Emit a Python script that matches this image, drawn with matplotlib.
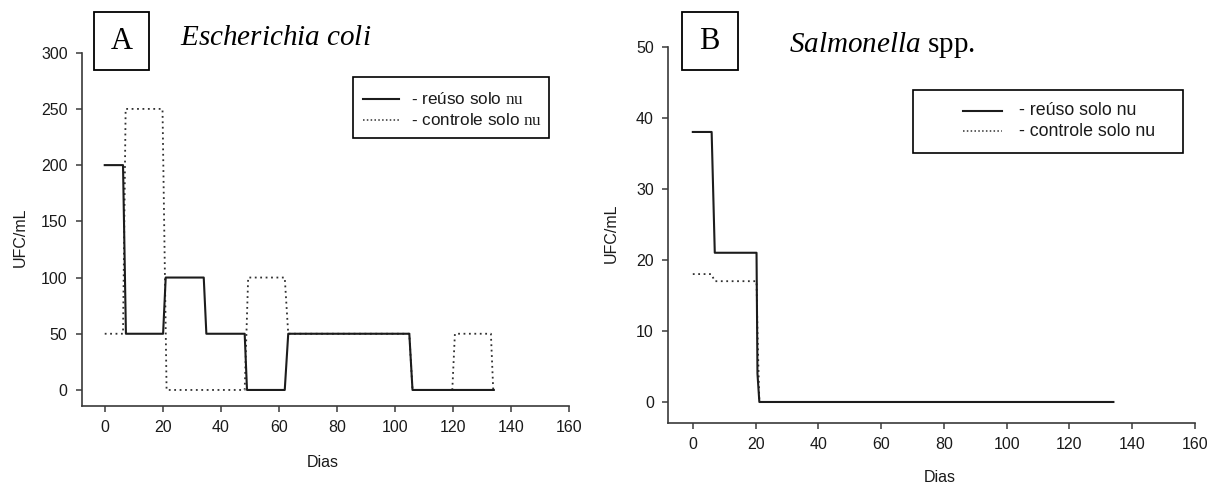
import matplotlib
matplotlib.use("Agg")
import matplotlib.pyplot as plt
from matplotlib.patches import Rectangle
from matplotlib.lines import Line2D

plt.rcParams['font.family'] = ['Liberation Sans', 'DejaVu Sans']
plt.rcParams['mathtext.fontset'] = 'custom'
plt.rcParams['mathtext.rm'] = 'Liberation Serif'
plt.rcParams['mathtext.it'] = 'Liberation Serif:italic'
plt.rcParams['mathtext.bf'] = 'Liberation Serif:bold'

# ---- data: panel A (Escherichia coli) ----
a_reuse_days = [0, 6.3, 7.3, 20.1, 21.0, 34.1, 35.0, 48.2, 49.0, 62.0, 63.2, 104.9, 106.0, 134]
a_reuse_ufc = [200, 200, 50, 50, 100, 100, 50, 50, 0, 0, 50, 50, 0, 0]
a_ctrl_days = [0, 6.3, 7.2, 19.9, 21.3, 48.2, 49.4, 62.0, 63.2, 104.9, 106.0, 119.7, 120.6, 133.0, 133.8]
a_ctrl_ufc = [50, 50, 250, 250, 0, 0, 100, 100, 50, 50, 0, 0, 50, 50, 0]

# ---- data: panel B (Salmonella spp.) ----
b_reuse_days = [0, 6.0, 7.0, 20.3, 20.6, 21.2, 134]
b_reuse_ufc = [38, 38, 21, 21, 4, 0, 0]
b_ctrl_days = [0, 5.9, 7.0, 20.3, 20.6, 21.2]
b_ctrl_ufc = [18, 18, 17, 17, 10, 0]

x_ticks = [0, 20, 40, 60, 80, 100, 120, 140, 160]
a_yticks = [0, 50, 100, 150, 200, 250, 300]
b_yticks = [0, 10, 20, 30, 40, 50]
legend_labels_a = ["- reúso solo $\\mathrm{nu}$", "- controle solo $\\mathrm{nu}$"]
legend_labels_b = ["- reúso solo nu", "- controle solo nu"]

W, H = 1220, 488
fig = plt.figure(figsize=(W / 100, H / 100), dpi=100)


def fx(px):
    return px / W


def fy(py):
    return 1 - py / H


def make_axes(l, r, t, b):
    return fig.add_axes([fx(l), fy(b), fx(r) - fx(l), fy(t) - fy(b)])


SPINE = '#3a3a3a'
TXT = '#1a1a1a'
SOLID_C = '#1c1c1c'
DOT_C = '#303030'


def style(ax, yticks, xlim, ylim):
    ax.set_xlim(*xlim)
    ax.set_ylim(*ylim)
    ax.set_xticks(x_ticks)
    ax.set_yticks(yticks)
    for s in ['top', 'right']:
        ax.spines[s].set_visible(False)
    for s in ['left', 'bottom']:
        ax.spines[s].set_color(SPINE)
        ax.spines[s].set_linewidth(1.2)
    ax.spines['left'].set_bounds(ylim[0], yticks[-1])
    ax.tick_params(direction='out', length=4, width=1.1, color=SPINE,
                   labelsize=11.5, labelcolor=TXT, pad=6)


axA = make_axes(81.5, 569.3, 52.7, 405.7)
axA.plot(a_ctrl_days, a_ctrl_ufc, color=DOT_C, lw=1.3, linestyle=(0, (1, 2)))
axA.plot(a_reuse_days, a_reuse_ufc, color=SOLID_C, lw=1.5)
style(axA, a_yticks, (-8, 160), (-14, 300))
axA.set_ylabel("UFC/mL", fontsize=11.5, color=TXT, va='center')
axA.yaxis.set_label_coords(-0.126, 0.478)
axA.set_xlabel("Dias", fontsize=11.5, color=TXT, va='center')
axA.xaxis.set_label_coords(0.495, -0.162)

axB = make_axes(667.7, 1195, 46.7, 423.3)
axB.plot(b_ctrl_days, b_ctrl_ufc, color=DOT_C, lw=1.3, linestyle=(0, (1, 2)))
axB.plot(b_reuse_days, b_reuse_ufc, color=SOLID_C, lw=1.5)
style(axB, b_yticks, (-8, 160), (-3, 50))
axB.set_ylabel("UFC/mL", fontsize=11.5, color=TXT, va='center')
axB.yaxis.set_label_coords(-0.1075, 0.505)
axB.set_xlabel("Dias", fontsize=11.5, color=TXT, va='center')
axB.xaxis.set_label_coords(0.516, -0.145)


def box_label(x0, y0, x1, y1, letter):
    fig.add_artist(Rectangle((fx(x0), fy(y1)), fx(x1) - fx(x0), fy(y0) - fy(y1),
                             transform=fig.transFigure, fill=False,
                             edgecolor='black', lw=1.3))
    fig.text(fx((x0 + x1) / 2), fy((y0 + y1) / 2 + 1), letter, ha='center', va='center',
             fontsize=22, family='Liberation Serif', color='black')


box_label(94, 11.7, 149.3, 70, "A")
box_label(681.7, 11.7, 737.5, 70, "B")

fig.text(fx(180), fy(45), "$\\it{Escherichia\\ coli}$", ha='left', va='baseline',
         fontsize=21, color='black')
fig.text(fx(789), fy(52), "$\\it{Salmonella}$ spp.", ha='left', va='baseline',
         fontsize=21, color='black', family='Liberation Serif')


def legend(x0, y0, x1, y1, lx0, lx1, ly, tx, labels, fs):
    fig.add_artist(Rectangle((fx(x0), fy(y1)), fx(x1) - fx(x0), fy(y0) - fy(y1),
                             transform=fig.transFigure, fill=False,
                             edgecolor='black', lw=1.2))
    styles = [dict(color=SOLID_C, lw=1.5), dict(color=DOT_C, lw=1.1, linestyle=(0, (1, 1.5)))]
    for yy, st, lab in zip(ly, styles, labels):
        fig.add_artist(Line2D([fx(lx0), fx(lx1)], [fy(yy), fy(yy)],
                              transform=fig.transFigure, **st))
        fig.text(fx(tx), fy(yy), lab, ha='left', va='center', fontsize=fs, color=TXT)


legend(352.7, 77.3, 549, 138.3, 363, 399, [99, 120], 411, legend_labels_a, 12.3)
legend(913, 90, 1183, 152.7, 963, 1002, [110.5, 131], 1019, legend_labels_b, 12.8)

fig.savefig("out.png", dpi=100)
